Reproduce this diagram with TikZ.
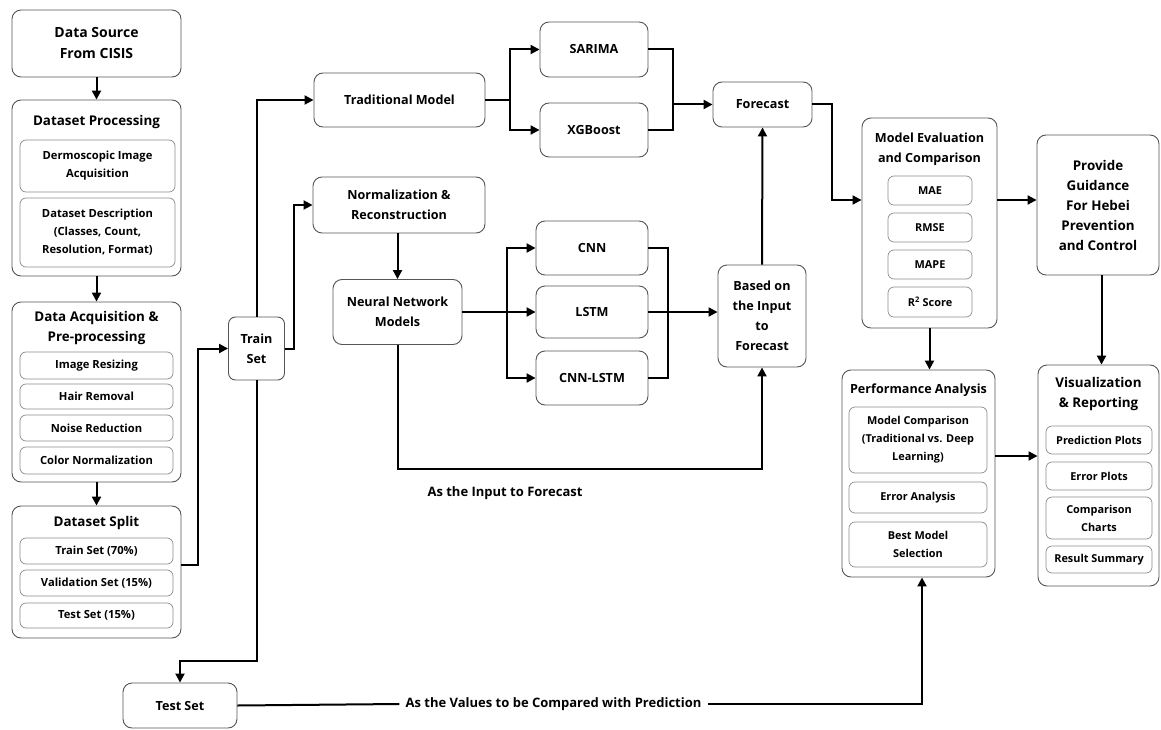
\documentclass[tikz,border=0pt]{standalone}
\usepackage{fontspec}
\setmainfont{Open Sans}
\usepackage{tikz}
\usetikzlibrary{shapes,arrows.meta,positioning}
\definecolor{boxgray}{RGB}{85, 85, 85}
\definecolor{innergray}{RGB}{140, 140, 140}
\newcommand{\bigfont}{\fontsize{14}{21}\selectfont\bfseries}
\newcommand{\headfont}{\fontsize{13.4}{20}\selectfont\bfseries}
\newcommand{\boxfont}{\fontsize{12.6}{20}\selectfont\bfseries}
\newcommand{\itemfont}{\fontsize{11.2}{18}\selectfont\bfseries}
\newcommand{\smallfont}{\fontsize{10.9}{18}\selectfont\bfseries}
\tikzstyle{box} = [rectangle, rounded corners=9pt, draw=boxgray, line width=0.9pt, fill=white, align=center, font=\boxfont, inner sep=0pt]
\tikzstyle{group} = [rectangle, rounded corners=9pt, draw=boxgray, line width=0.9pt, fill=white, inner sep=0pt]
\tikzstyle{item} = [rectangle, rounded corners=6pt, draw=innergray, line width=0.7pt, fill=white, align=center, font=\itemfont, inner sep=0pt]
\tikzstyle{smallitem} = [item, font=\smallfont]
\tikzstyle{textonly} = [draw=none, fill=none, align=center]
\tikzstyle{flow} = [line width=2pt, -{Triangle[length=9pt,width=9pt]}]
\tikzstyle{line} = [line width=2pt]

\begin{document}
\begin{tikzpicture}[x=1pt, y=-1pt]
\useasboundingbox (0,0) rectangle (1161,730);

% left column =============================

% data source
\node[box, font=\bigfont, minimum width=169pt, minimum height=67pt] (src) at (96.5,43.5) {Data Source\\From CISIS};

% dataset processing
\node[group, minimum width=169pt, minimum height=176pt] (procbox) at (96.5,188) {};
\node[textonly, font=\headfont] (proc) at (96.5,122) {Dataset Processing};
\node[item, minimum width=155pt, minimum height=52pt] (dermo) at (97.5,166) {Dermoscopic Image\\Acquisition};
\node[item, minimum width=155pt, minimum height=69pt] (desc) at (97.5,232.5) {Dataset Description\\(Classes, Count,\\Resolution, Format)};

% acquisition and pre-processing
\node[group, minimum width=169pt, minimum height=180pt] (acqbox) at (96.5,392) {};
\node[textonly, font=\headfont] (acq) at (96.5,328) {Data Acquisition \&\\Pre-processing};
\node[item, minimum width=153pt, minimum height=27pt] (resize) at (96.5,365.5) {Image Resizing};
\node[item, minimum width=153pt, minimum height=25pt] (hair) at (96.5,396.5) {Hair Removal};
\node[item, minimum width=153pt, minimum height=26pt] (noise) at (96.5,428) {Noise Reduction};
\node[item, minimum width=153pt, minimum height=27pt] (colnorm) at (96.5,460.5) {Color Normalization};

% dataset split
\node[group, minimum width=169pt, minimum height=132pt] (splitbox) at (96.5,572) {};
\node[textonly, font=\headfont] (split) at (96.5,523) {Dataset Split};
\node[item, minimum width=153pt, minimum height=26pt] (trainpct) at (96.5,551) {Train Set (70\%)};
\node[item, minimum width=153pt, minimum height=26pt] (valpct) at (96.5,583) {Validation Set (15\%)};
\node[item, minimum width=153pt, minimum height=25pt] (testpct) at (96.5,615.5) {Test Set (15\%)};

% sets
\node[box, rounded corners=7pt, minimum width=56pt, minimum height=63pt] (train) at (256.5,348.5) {Train\\Set};
\node[box, minimum width=114pt, minimum height=45pt] (test) at (180,705.5) {Test Set};

% models =============================

% traditional branch
\node[box, minimum width=171pt, minimum height=54pt] (trad) at (399.5,100) {Traditional Model};
\node[box, minimum width=108pt, minimum height=55pt] (sarima) at (594,49.5) {SARIMA};
\node[box, minimum width=108pt, minimum height=54pt] (xgb) at (594,130) {XGBoost};
\node[box, minimum width=99pt, minimum height=45pt] (forecast) at (762.5,104.5) {Forecast};

% neural branch
\node[box, minimum width=172pt, minimum height=56pt] (norm) at (399,205) {Normalization \&\\Reconstruction};
\node[box, minimum width=129pt, minimum height=65pt] (nn) at (397.5,312) {Neural Network\\Models};
\node[box, minimum width=112pt, minimum height=54pt] (cnn) at (592,248) {CNN};
\node[box, minimum width=112pt, minimum height=52pt] (lstm) at (592,312) {LSTM};
\node[box, minimum width=112pt, minimum height=54pt] (cnnlstm) at (592,378) {CNN-LSTM};
\node[box, minimum width=88pt, minimum height=102pt] (based) at (762,316) {Based on\\the Input\\to\\Forecast};

% evaluation =============================

\node[group, minimum width=135pt, minimum height=210pt] (evalbox) at (929.5,223) {};
\node[textonly, font=\boxfont, align=center] (eval) at (929.5,149.5) {Model Evaluation\\and Comparison};
\node[smallitem, minimum width=84pt, minimum height=29pt] (mae) at (930,190.5) {MAE};
\node[smallitem, minimum width=84pt, minimum height=29pt] (rmse) at (930,227.5) {RMSE};
\node[smallitem, minimum width=84pt, minimum height=29pt] (mape) at (930,264.5) {MAPE};
\node[smallitem, minimum width=84pt, minimum height=30pt] (rtwo) at (930,302) {R\textsuperscript{2} Score};

\node[box, font=\headfont, minimum width=122pt, minimum height=140pt] (guide) at (1098,205) {Provide\\Guidance\\For Hebei\\Prevention\\and Control};

\node[group, minimum width=153pt, minimum height=207pt] (perfbox) at (918.5,473.5) {};
\node[textonly, font=\boxfont] (perf) at (918.5,390) {Performance Analysis};
\node[smallitem, minimum width=138pt, minimum height=66pt] (mcomp) at (918,440) {Model Comparison\\(Traditional vs. Deep\\Learning)};
\node[smallitem, minimum width=138pt, minimum height=31pt] (erran) at (918,497.5) {Error Analysis};
\node[smallitem, minimum width=138pt, minimum height=45pt] (best) at (918,544.5) {Best Model\\Selection};

\node[group, minimum width=121pt, minimum height=221pt] (visbox) at (1098.5,475.5) {};
\node[textonly, font=\headfont] (vis) at (1098.5,394) {Visualization\\\& Reporting};
\node[smallitem, minimum width=106pt, minimum height=28pt] (pplots) at (1099,440) {Prediction Plots};
\node[smallitem, minimum width=106pt, minimum height=28pt] (eplots) at (1099,476) {Error Plots};
\node[smallitem, minimum width=106pt, minimum height=42pt] (charts) at (1099,518) {Comparison\\Charts};
\node[smallitem, minimum width=106pt, minimum height=27pt] (summary) at (1099,559.5) {Result Summary};

% labels
\node[textonly, font=\fontsize{13}{16}\selectfont\bfseries] (inlabel) at (505,493) {As the Input to Forecast};
\node[textonly, font=\fontsize{13}{16}\selectfont\bfseries, inner sep=6pt] (cmp) at (553.5,704) {As the Values to be Compared with Prediction};

% edges left column
\draw[flow] (src) -- (procbox);
\draw[flow] (procbox) -- (acqbox);
\draw[flow] (acqbox) -- (splitbox);
\draw[flow] ([yshift=7pt]splitbox.east) -- ++(17,0) |- (train.west);

% edges from the sets
\draw[flow] (train.north) |- (trad.west);
\draw[flow] (train.east) -- ++(9,0) |- (norm.west);
\draw[flow] (train.south) -- ++(0,281) -| (test.north);
\draw[line] (test.east) -- (cmp.west);
\draw[flow] (cmp.east) -| ([xshift=3.5pt]perfbox.south);

% edges traditional branch
\draw[line] (trad.east) -- ++(25,0) coordinate (tsplit);
\draw[flow] (tsplit) |- (sarima.west);
\draw[flow] (tsplit) |- (xgb.west);
\draw[line] (sarima.east) -- ++(25,0) |- (xgb.east);
\coordinate (tmerge) at (673,104.5);
\draw[flow] (tmerge) -- (forecast.west);

% edges neural branch
\draw[flow] (nn.north |- norm.south) -- (nn.north);
\draw[flow] (nn.east) -- (lstm.west);
\coordinate (nsplit) at (507,312);
\draw[flow] (nsplit) |- (cnn.west);
\draw[flow] (nsplit) |- (cnnlstm.west);
\draw[line] (cnn.east) -- ++(20,0) |- (cnnlstm.east);
\draw[flow] (lstm.east) -- (lstm.east -| based.west);
\draw[flow] (nn.south) -- ++(0,124.5) -| (based.south);
\draw[flow] (based.north) -- (forecast.south);

% edges evaluation
\draw[flow] (forecast.east) -- ++(20,0) |- ([yshift=23pt]evalbox.west);
\draw[flow] ([yshift=23pt]evalbox.east) -- ([yshift=23pt]evalbox.east -| guide.west);
\draw[flow] (evalbox.south) -- (evalbox.south |- perfbox.north);
\draw[flow] ([xshift=3.5pt]guide.south) -- ([xshift=3.5pt]guide.south |- visbox.north);
\draw[flow] ([yshift=17.5pt]perfbox.east) -- ([yshift=17.5pt]perfbox.east -| visbox.west);

\end{tikzpicture}
\end{document}
